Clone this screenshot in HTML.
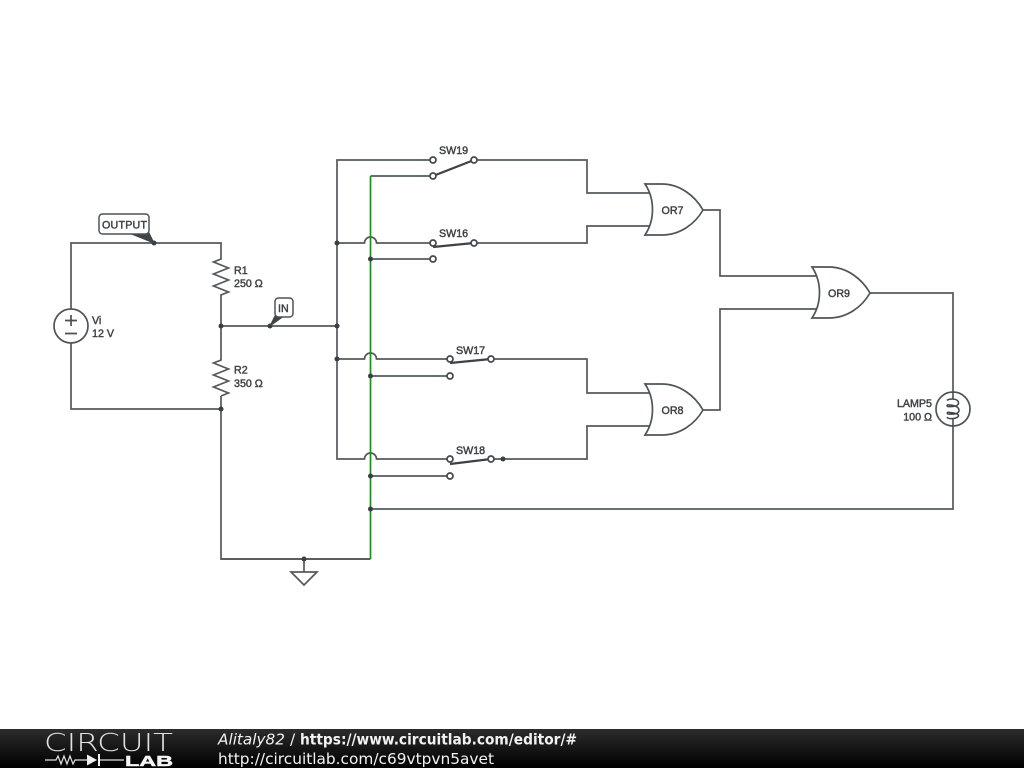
<!DOCTYPE html>
<html>
<head>
<meta charset="utf-8">
<style>
html,body{margin:0;padding:0;background:#fff;width:1024px;height:768px;overflow:hidden}
svg{display:block;position:absolute;left:0;top:0;filter:blur(.3px)}
.w{fill:none;stroke:#54595c;stroke-width:1.700}
.g{fill:none;stroke:#0a9a0a;stroke-width:1.700}
.t{fill:#fff;stroke:#43484c;stroke-width:1.700}
.d{fill:#3a3f43}
.arm{fill:none;stroke:#3d4246;stroke-width:2.200}
.l{font-family:"Liberation Sans",sans-serif;font-size:10.700px;fill:#3f4346;stroke:#3f4346;stroke-width:.45px}
.b{fill:#fff;stroke:#4f5457;stroke-width:1.700}
</style>
</head>
<body>
<svg width="1024" height="768" viewBox="0 0 1024 768" xmlns="http://www.w3.org/2000/svg">
<defs>
<linearGradient id="f" x1="0" y1="0" x2="0" y2="1"><stop offset="0" stop-color="#2c2c2c"/><stop offset=".5" stop-color="#151515"/><stop offset="1" stop-color="#000"/></linearGradient>
</defs>

<!-- left circuit -->
<path class="w" d="M71 310V243H221V257M221 296V358M221 396V559H370.500M71 343V409H221M221 326H337M304 559V572"/>
<path class="w" d="M221 257l0 2 -7.500 3 15 6 -15 6 15 6 -15 6 15 6 -7.500 3V296"/>
<path class="w" d="M221 358l0 2 -7.500 3 15 6 -15 6 15 6 -15 6 15 6 -7.500 3V396"/>
<circle class="b" cx="71" cy="326" r="17"/>
<path class="w" d="M65 320.500H77M71 315V326M65 333.500H77" style="stroke:#4a4f52"/>
<path class="w" d="M291 572H317L304 585Z"/>

<!-- switch wiring -->
<path class="w" d="M433 160H337V459H364.500A6 6 0 0 1 376.500 459H450"/>
<path class="w" d="M337 243H364.500A6 6 0 0 1 376.500 243H433"/>
<path class="w" d="M337 359H364.500A6 6 0 0 1 376.500 359H450"/>
<path class="w" d="M433 176H370.500M370.500 259H433M370.500 376H450M370.500 476H450M370.500 509H953V293H870"/>
<path class="g" d="M370.500 176V559"/>
<path class="w" d="M370.500 559H221" />

<!-- outputs -->
<path class="w" d="M474 160H587V193H650M474 243H587V226H650"/>
<path class="w" d="M491 359H587V393H650M491 459H587V426H650"/>
<path class="w" d="M703 210H720V276H816M703 410H720V309H816"/>

<!-- switches -->
<path class="arm" d="M433 176L474 160M433 247L474 243M450 363L491 359M450 464L491 459"/>
<g class="t">
<circle cx="433" cy="160" r="3"/><circle cx="433" cy="176" r="3"/><circle cx="474" cy="160" r="3"/>
<circle cx="433" cy="243" r="3"/><circle cx="433" cy="259" r="3"/><circle cx="474" cy="243" r="3"/>
<circle cx="450" cy="359" r="3"/><circle cx="450" cy="376" r="3"/><circle cx="491" cy="359" r="3"/>
<circle cx="450" cy="459" r="3"/><circle cx="450" cy="476" r="3"/><circle cx="491" cy="459" r="3"/>
</g>

<!-- gates -->
<path class="b" d="M645 184H662C680 184 695 196 703 210C695 224 680 235 662 235H645C655 220 655 199 645 184Z"/>
<path class="b" d="M645 384H662C680 384 695 396 703 410C695 424 680 435 662 435H645C655 420 655 399 645 384Z"/>
<path class="b" d="M812 267H829C847 267 862 279 870 293C862 307 847 318 829 318H812C822 303 822 282 812 267Z"/>

<!-- lamp -->
<circle class="b" cx="953" cy="409" r="17"/>
<path class="w" d="M953 392V399M953 419V426M947 400.500C948 398.500 958 398 958.500 402.500C959 406.500 952 407 947.500 406.500C946 405 948 404.500 950 405C955 405.500 959 407 959 410.500C959 414 953 414.500 948 414C946 412.500 948 412 950 412.500C955 413 959 414 958.500 416C957 419 948 419.500 947 417" style="stroke:#3f4448;stroke-width:1.500"/>

<!-- junctions -->
<g class="d">
<circle cx="154" cy="243" r="2.500"/><circle cx="221" cy="326" r="2.500"/><circle cx="221" cy="409" r="2.500"/>
<circle cx="270" cy="326" r="2.500"/><circle cx="337" cy="326" r="2.500"/><circle cx="337" cy="243" r="2.500"/>
<circle cx="337" cy="359" r="2.500"/><circle cx="370.500" cy="259" r="2.500"/><circle cx="370.500" cy="376" r="2.500"/>
<circle cx="370.500" cy="476" r="2.500"/><circle cx="370.500" cy="509" r="2.500"/><circle cx="304" cy="559" r="2.500"/>
<circle cx="503" cy="459" r="2.500"/>
</g>

<!-- flags -->
<path d="M129 233L154 243L149 233Z" fill="#3f4448" stroke="#3f4448"/>
<rect x="99" y="214" width="50" height="20" rx="3.500" fill="#fff" stroke="#4f5457" stroke-width="1.500"/>
<path d="M275 316L270 326L284 316Z" fill="#3f4448" stroke="#3f4448"/>
<rect x="275" y="298" width="18" height="19" rx="3.500" fill="#fff" stroke="#4f5457" stroke-width="1.500"/>

<!-- labels -->
<g class="l">
<text x="102" y="228.500" textLength="45">OUTPUT</text>
<text x="278" y="312">IN</text>
<text x="234" y="274">R1</text><text x="234" y="287">250 Ω</text>
<text x="234" y="373.500">R2</text><text x="234" y="387">350 Ω</text>
<text x="92" y="324">Vi</text><text x="92" y="337">12 V</text>
<text x="439" y="154">SW19</text><text x="439" y="237">SW16</text>
<text x="456" y="354">SW17</text><text x="456" y="454">SW18</text>
<text x="661.500" y="214">OR7</text><text x="661.500" y="414">OR8</text><text x="828" y="297">OR9</text>
<text x="932" y="407" text-anchor="end">LAMP5</text><text x="932" y="420.500" text-anchor="end">100 Ω</text>
</g>

<!-- footer -->
<rect x="0" y="729" width="1024" height="39" fill="url(#f)"/>
<text x="44" y="751" font-family="'DejaVu Sans ExtraLight','DejaVu Sans Light','Liberation Sans',sans-serif" font-size="24.500" font-weight="200" fill="#e2e2e2" textLength="129" lengthAdjust="spacingAndGlyphs">CIRCUIT</text>
<path d="M45 760H56l2-4 3 8 3-8 3 8 3-8 3 8 2-4H87M100 760H124" fill="none" stroke="#e0e0e0" stroke-width="1.200"/>
<path d="M87 754.500V765.500L97 760ZM98 754V766H100V754Z" fill="#f0f0f0"/>
<text x="125" y="766" font-family="'Liberation Sans',sans-serif" font-size="15" font-weight="bold" fill="#f4f4f4" stroke="#f4f4f4" stroke-width=".5" textLength="48" lengthAdjust="spacingAndGlyphs">LAB</text>
<g font-family="'DejaVu Sans',sans-serif" font-size="15.300" fill="#f2f2f2">
<text x="218" y="744.500" font-style="italic" textLength="67" lengthAdjust="spacingAndGlyphs">Alitaly82</text>
<text x="290" y="744.500">/</text>
<text x="300" y="744.500" font-weight="bold" textLength="277" lengthAdjust="spacingAndGlyphs">https://www.circuitlab.com/editor/#</text>
<text x="218" y="764" textLength="276" lengthAdjust="spacingAndGlyphs">http://circuitlab.com/c69vtpvn5avet</text>
</g>
</svg>
</body>
</html>
